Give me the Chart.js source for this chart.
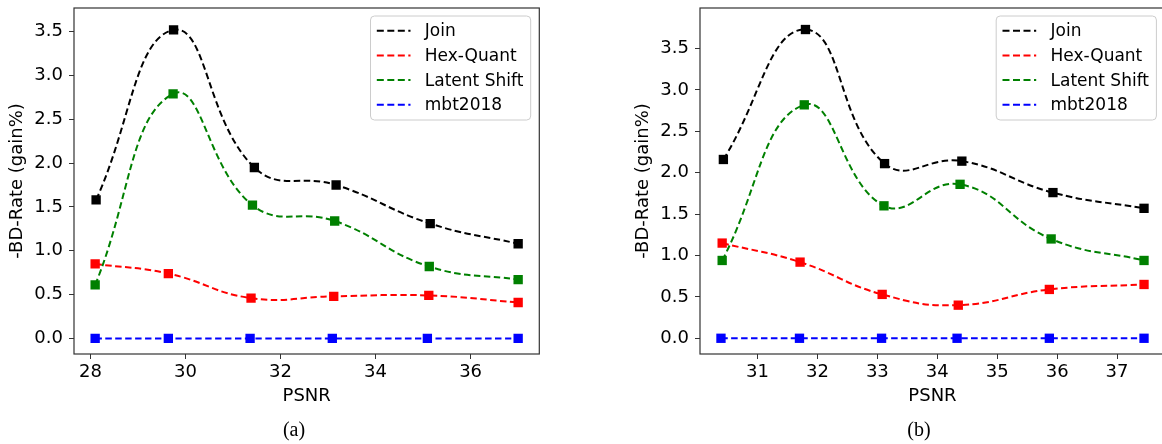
<!DOCTYPE html>
<html>
<head>
<meta charset="utf-8">
<script src="https://cdn.jsdelivr.net/npm/chart.js@4.4.1/dist/chart.umd.min.js"></script>
<style>
  html, body { margin: 0; padding: 0; background: #fff; }
  #wrap { position: relative; width: 1162px; height: 444px; overflow: hidden; }
  canvas { position: absolute; top: 0; }
  #ca { left: 0; }
  #cb { left: 626px; }
  .cap { position: absolute; top: 418px; font-family: 'Liberation Serif', serif; font-size: 20px; transform: translateX(-50%); color: #000; }
</style>
</head>
<body>
<div id="wrap">
  <canvas id="ca" width="580" height="444"></canvas>
  <canvas id="cb" width="560" height="444"></canvas>
  <div class="cap" style="left:294px">(a)</div>
  <div class="cap" style="left:919px">(b)</div>
</div>
<script>
const seriesNames = ['Join', 'Hex-Quant', 'Latent Shift', 'mbt2018'];
const seriesColors = ['#000000', '#ff0000', '#008000', '#0000ff'];

// panel (a)
const psnrJoinA = [28.12, 29.75, 31.45, 33.17, 35.15, 37.0];
const bdJoinA = [1.58, 3.52, 1.95, 1.75, 1.31, 1.08];
const psnrHexA = [28.10, 29.64, 31.38, 33.12, 35.12, 37.0];
const bdHexA = [0.85, 0.74, 0.46, 0.48, 0.49, 0.41];
const psnrShiftA = [28.10, 29.74, 31.41, 33.14, 35.13, 37.0];
const bdShiftA = [0.61, 2.79, 1.52, 1.34, 0.82, 0.67];
const psnrMbtA = [28.10, 29.64, 31.36, 33.09, 35.09, 37.0];
const bdMbtA = [0, 0, 0, 0, 0, 0];
const xTicksA = [28, 30, 32, 34, 36];

// panel (b)
const psnrJoinB = [30.43, 31.80, 33.12, 34.41, 35.93, 37.45];
const bdJoinB = [2.16, 3.73, 2.11, 2.14, 1.76, 1.57];
const psnrHexB = [30.41, 31.71, 33.08, 34.35, 35.87, 37.45];
const bdHexB = [1.15, 0.92, 0.53, 0.40, 0.59, 0.65];
const psnrShiftB = [30.41, 31.78, 33.11, 34.38, 35.90, 37.45];
const bdShiftB = [0.94, 2.82, 1.60, 1.86, 1.20, 0.94];
const psnrMbtB = [30.39, 31.70, 33.07, 34.33, 35.87, 37.45];
const bdMbtB = [0, 0, 0, 0, 0, 0];
const xTicksB = [31, 32, 33, 34, 35, 36, 37];

const yTicks = [0, 0.5, 1.0, 1.5, 2.0, 2.5, 3.0, 3.5];

const FONT = "'DejaVu Sans', sans-serif";

const framePlugin = {
  id: 'frame',
  afterDatasetsDraw(chart) {
    const a = chart.chartArea;
    const ctx = chart.ctx;
    ctx.save();
    ctx.strokeStyle = '#333';
    ctx.lineWidth = 1.2;
    ctx.strokeRect(a.left, a.top, a.right - a.left, a.bottom - a.top);
    ctx.restore();
  },
};

const boxLegend = {
  id: 'boxLegend',
  afterDraw(chart) {
    const ctx = chart.ctx;
    const a = chart.chartArea;
    const sets = chart.data.datasets;
    ctx.save();
    ctx.font = '17px ' + FONT;
    let tw = 0;
    sets.forEach((d) => { tw = Math.max(tw, ctx.measureText(d.label).width); });
    const w = 54.3 + tw + 7.4;
    const h = 104;
    const x0 = a.right - 8.6 - w;
    const y0 = a.top + 8;
    ctx.beginPath();
    ctx.roundRect(x0, y0, w, h, 4);
    ctx.fillStyle = 'rgba(255,255,255,0.8)';
    ctx.fill();
    ctx.strokeStyle = '#cccccc';
    ctx.lineWidth = 1;
    ctx.stroke();
    sets.forEach((d, i) => {
      const y = y0 + 14.7 + i * 24.7;
      ctx.beginPath();
      ctx.setLineDash([7, 3.5]);
      ctx.strokeStyle = d.borderColor;
      ctx.lineWidth = 2;
      ctx.moveTo(x0 + 6.3, y);
      ctx.lineTo(x0 + 40, y);
      ctx.stroke();
      ctx.setLineDash([]);
      ctx.fillStyle = '#000';
      ctx.textBaseline = 'middle';
      ctx.fillText(d.label, x0 + 54.3, y + 1);
    });
    ctx.restore();
  },
};

function makeSets(xsList, ysList) {
  return seriesNames.map((name, i) => ({
    label: name,
    data: xsList[i].map((x, j) => ({ x: x, y: ysList[i][j] })),
    borderColor: seriesColors[i],
    backgroundColor: seriesColors[i],
    borderWidth: 2,
    borderDash: [6.5, 3.5],
    tension: 0.45,
    pointStyle: 'rect',
    pointRadius: 6.6,
    pointBorderWidth: 0,
    pointBackgroundColor: seriesColors[i],
    fill: false,
    order: 4 - i,
  }));
}

function makeChart(id, sets, xTicks, xMin, xMax, yMin, yMax, padRight) {
  new Chart(document.getElementById(id), {
    type: 'line',
    data: { datasets: sets },
    options: {
      responsive: false,
      animation: false,
      events: [],
      layout: { padding: { top: 8, right: padRight, bottom: 0, left: 0 } },
      plugins: { legend: { display: false }, tooltip: { enabled: false } },
      scales: {
        x: {
          type: 'linear',
          min: xMin,
          max: xMax,
          afterBuildTicks: (s) => { s.ticks = xTicks.map((v) => ({ value: v })); },
          afterFit: (s) => { s.height = 90; s.paddingLeft = 0; s.paddingRight = 0; },
          grid: { drawOnChartArea: false, drawTicks: true, tickLength: 5, color: '#333', lineWidth: 1 },
          border: { display: false },
          ticks: {
            autoSkip: false, maxRotation: 0, padding: 3, color: '#000',
            font: { family: FONT, size: 18 },
            callback: (v) => String(v),
          },
          title: {
            display: true, text: 'PSNR', color: '#000',
            font: { family: FONT, size: 18 },
            padding: { top: 0, bottom: 37 },
          },
        },
        y: {
          type: 'linear',
          min: yMin,
          max: yMax,
          afterBuildTicks: (s) => { s.ticks = yTicks.map((v) => ({ value: v })); },
          afterFit: (s) => { s.width = 74; s.paddingTop = 0; s.paddingBottom = 0; },
          grid: { drawOnChartArea: false, drawTicks: true, tickLength: 5, color: '#333', lineWidth: 1 },
          border: { display: false },
          ticks: {
            autoSkip: false, padding: 6, color: '#000',
            font: { family: FONT, size: 18 },
            callback: (v) => v.toFixed(1),
          },
          title: {
            display: true, text: '-BD-Rate (gain%)', color: '#000',
            font: { family: FONT, size: 18 },
            padding: { top: 7, bottom: 0 },
          },
        },
      },
    },
    plugins: [framePlugin, boxLegend],
  });
}

makeChart('ca',
  makeSets([psnrJoinA, psnrHexA, psnrShiftA, psnrMbtA], [bdJoinA, bdHexA, bdShiftA, bdMbtA]),
  xTicksA, 27.655, 37.445, -0.178, 3.77, 40.7);

makeChart('cb',
  makeSets([psnrJoinB, psnrHexB, psnrShiftB, psnrMbtB], [bdJoinB, bdHexB, bdShiftB, bdMbtB]),
  xTicksB, 30.04, 37.80, -0.19, 3.99, 21);
</script>
</body>
</html>
